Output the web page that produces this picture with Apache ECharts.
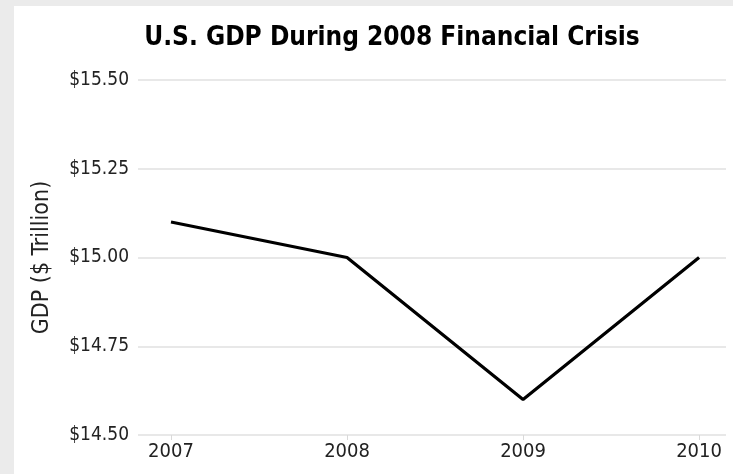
<!DOCTYPE html>
<html>
<head>
<meta charset="utf-8">
<script src="https://cdn.jsdelivr.net/npm/echarts@6/dist/echarts.min.js"></script>
<style>
html,body{margin:0;padding:0;background:#ebebeb;width:733px;height:474px;overflow:hidden;}
#c{position:absolute;left:14px;top:6px;width:719px;height:468px;background:#fff;}
</style>
</head>
<body>
<div id="c"></div>
<script>
const years = [2007, 2008, 2009, 2010];
const gdp = [15.10, 15.00, 14.60, 15.00];
const yTicks = [14.50, 14.75, 15.00, 15.25, 15.50];
const titleText = 'U.S. GDP During 2008 Financial Crisis';
const yName = 'GDP ($ Trillion)';

const FONT = "'Liberation Sans Narrow', 'DejaVu Sans Condensed', 'Roboto', sans-serif";
const chart = echarts.init(document.getElementById('c'), null, {renderer: 'canvas'});
chart.setOption({
  animation: false,
  title: {
    text: titleText,
    left: 373, top: 14, textAlign: 'center',
    textStyle: {fontFamily: FONT, fontWeight: 'bold', fontSize: 26, color: '#000'}
  },
  grid: {left: 124, right: 7, top: 74, bottom: 39, containLabel: false},
  xAxis: {
    type: 'value',
    min: 2006.8125, max: 2010.153,
    splitLine: {show: false},
    axisLine: {show: false},
    axisTick: {show: true, customValues: years, length: 5, lineStyle: {color: '#d9d9d9', width: 1}},
    axisLabel: {customValues: years, fontFamily: FONT, fontSize: 20, color: '#222', margin: 7,
      formatter: v => String(v)}
  },
  yAxis: {
    type: 'value',
    min: yTicks[0], max: yTicks[yTicks.length - 1], interval: 0.25,
    name: yName, nameLocation: 'middle', nameGap: 84, nameRotate: 90,
    nameTextStyle: {fontFamily: FONT, fontSize: 23, color: '#222'},
    axisLine: {show: false}, axisTick: {show: false},
    splitLine: {lineStyle: {color: '#e0e0e0', width: 1.5}},
    axisLabel: {fontFamily: FONT, fontSize: 19, color: '#222', margin: 9,
      formatter: v => '$' + v.toFixed(2)}
  },
  series: [{
    type: 'line',
    data: years.map((y, i) => [y, gdp[i]]),
    symbol: 'none',
    lineStyle: {color: '#000', width: 3.2},
    silent: true
  }]
});
</script>
</body>
</html>
